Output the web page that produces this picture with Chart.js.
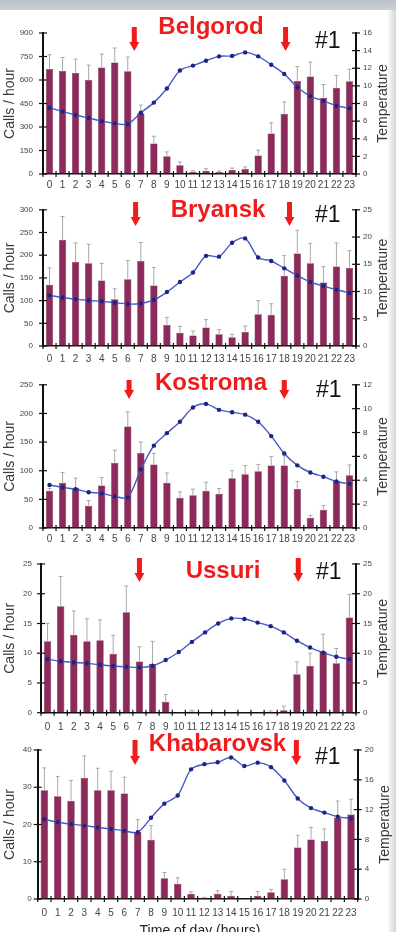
<!DOCTYPE html>
<html lang="en">
<head>
<meta charset="UTF-8">
<title>Calls per hour and temperature</title>
<script src="https://cdn.jsdelivr.net/npm/chart.js"></script>
<style>
  body { margin: 0; background: #fff; width: 396px; height: 932px; overflow: hidden; position: relative; }
  .topbar { position: absolute; left: 0; top: 0; width: 396px; height: 10px; background: linear-gradient(#bcc1c9, #cbcfd6); }
  .edge { position: absolute; right: 0; top: 10px; width: 9px; height: 922px; background: linear-gradient(to right, rgba(255,255,255,0), #d2d4d8); }
  canvas { position: absolute; left: 0; }
</style>
</head>
<body>
<div class="topbar"></div>
<div class="edge"></div>
<canvas id="c1" width="396" height="185" style="top:10px"></canvas>
<canvas id="c2" width="396" height="175" style="top:195px"></canvas>
<canvas id="c3" width="396" height="177" style="top:370px"></canvas>
<canvas id="c4" width="396" height="186" style="top:547px"></canvas>
<canvas id="c5" width="396" height="199" style="top:733px"></canvas>
<script>
const hours = ['0','1','2','3','4','5','6','7','8','9','10','11','12','13','14','15','16','17','18','19','20','21','22','23'];

// Belgorod
const belgorodCalls = [671, 658, 645, 600, 680, 712, 656, 387, 195, 113, 56, 15, 21, 13, 26, 32, 118, 259, 383, 594, 622, 487, 551, 592];
const belgorodErr   = [90, 86, 88, 95, 85, 92, 90, 53, 46, 28, 21, 6, 13, 6, 12, 13, 34, 68, 77, 92, 92, 84, 77, 77];
const belgorodTemp  = [7.5, 7.1, 6.7, 6.35, 6.0, 5.75, 5.65, 6.95, 8.1, 9.7, 11.75, 12.3, 12.85, 13.35, 13.4, 13.8, 13.35, 12.4, 11.35, 9.85, 8.85, 8.3, 7.75, 7.45];
const belgorodArrows = [6.5, 18.1];

// Bryansk
const bryanskCalls = [135, 234, 185, 182, 144, 103, 147, 187, 133, 46, 29, 23, 41, 26, 19, 31, 70, 69, 155, 204, 182, 140, 175, 172];
const bryanskErr   = [37, 51, 42, 42, 38, 23, 41, 41, 40, 17, 14, 10, 17, 10, 7, 13, 30, 24, 44, 51, 44, 35, 52, 38];
const bryanskTemp  = [9.3, 8.9, 8.6, 8.35, 8.2, 7.95, 7.7, 7.8, 8.45, 9.9, 11.75, 13.5, 16.55, 16.4, 18.95, 19.75, 16.25, 15.6, 14.25, 12.95, 11.75, 11.0, 10.35, 9.75];
const bryanskArrows = [6.6, 18.4];

// Kostroma
const kostromaCalls = [65, 79, 70, 39, 74, 114, 177, 131, 111, 79, 53, 57, 65, 60, 87, 94, 99, 109, 109, 68, 18, 32, 82, 92];
const kostromaErr   = [4, 18, 17, 9, 14, 22, 26, 19, 19, 17, 10, 11, 15, 9, 13, 15, 12, 16, 17, 13, 4, 7, 16, 18];
const kostromaTemp  = [3.6, 3.4, 3.25, 3.0, 2.9, 2.65, 2.55, 4.9, 6.9, 7.95, 8.9, 10.1, 10.4, 9.9, 9.7, 9.5, 8.9, 7.7, 6.25, 5.25, 4.65, 4.3, 3.9, 3.7];
const kostromaArrows = [6.1, 18];

// Ussuri
const ussuriCalls = [12, 17.9, 13.1, 12, 12.2, 9.9, 16.9, 8.6, 8.2, 1.85, 0, 0.2, 0, 0, 0, 0, 0, 0.1, 0.4, 6.45, 7.9, 10.3, 8.3, 16];
const ussuriErr   = [3.0, 5.0, 4.0, 3.8, 3.4, 3.1, 4.4, 2.5, 3.8, 1.2, 0, 0.2, 0, 0, 0, 0, 0, 0.2, 0.7, 2.1, 2.1, 2.9, 2.5, 3.9];
const ussuriTemp  = [9.0, 8.65, 8.45, 8.3, 8.05, 7.85, 7.7, 7.6, 7.9, 8.85, 10.2, 11.9, 13.5, 15.0, 15.85, 15.75, 15.15, 14.55, 13.5, 12.1, 10.95, 10.1, 9.4, 9.0];
const ussuriArrows = [7, 19.1];

// Khabarovsk
const khabarovskCalls = [29.2, 27.6, 26.4, 32.5, 29.2, 29.2, 28.3, 18, 15.9, 5.6, 4.1, 1.4, 0.35, 1.4, 0.9, 0, 0.9, 1.8, 5.3, 13.8, 16, 15.6, 21.8, 22.7];
const khabarovskErr   = [6.0, 5.3, 5.4, 5.9, 5.9, 5.1, 4.4, 3.3, 3.8, 1.5, 1.6, 0.5, 0.1, 0.8, 1.1, 0, 1.1, 0.8, 2.7, 3.3, 3.2, 3.2, 4.5, 4.1];
const khabarovskTemp  = [10.7, 10.3, 10.05, 9.85, 9.6, 9.4, 9.15, 8.95, 10.9, 12.8, 13.9, 17.4, 18.1, 18.35, 19.0, 17.85, 18.3, 17.7, 15.9, 13.5, 12.2, 11.6, 11.05, 10.8];
const khabarovskArrows = [6.8, 18.9];

const FONT = '"Liberation Sans", Arial, sans-serif';
const RED = '#f01b1b';

function line(ctx, x1, y1, x2, y2) {
  ctx.beginPath(); ctx.moveTo(x1, y1); ctx.lineTo(x2, y2); ctx.stroke();
}

const deco = {
  id: 'deco',
  afterDatasetDraw(chart, args, o) {
    if (args.meta.type !== 'bar') return;
    const ds = chart.data.datasets[args.index];
    const y = chart.scales.y;
    const ctx = chart.ctx;
    ctx.save();
    ctx.strokeStyle = '#a8a8a8';
    ctx.lineWidth = 1;
    args.meta.data.forEach((bar, i) => {
      const e = ds.errors[i];
      if (!e) return;
      const top = y.getPixelForValue(ds.data[i] + e);
      line(ctx, bar.x, bar.y, bar.x, top);
      line(ctx, bar.x - 2, top, bar.x + 2, top);
    });
    ctx.restore();
  },
  afterDraw(chart, args, o) {
    const ctx = chart.ctx;
    const ca = chart.chartArea;
    const xs = chart.scales.x, ys = chart.scales.y, ts = chart.scales.t;
    ctx.save();
    // cross tick marks
    ctx.strokeStyle = '#111';
    ctx.lineWidth = 1.2;
    ys.ticks.forEach((t, i) => { const p = ys.getPixelForTick(i); line(ctx, ca.left - 4, p, ca.left + 4, p); });
    ts.ticks.forEach((t, i) => { const p = ts.getPixelForTick(i); line(ctx, ca.right - 4, p, ca.right + 4, p); });
    const step = xs.getPixelForValue(1) - xs.getPixelForValue(0);
    for (let i = 0; i <= hours.length; i++) {
      const px = xs.getPixelForValue(0) + (i - 0.5) * step;
      line(ctx, px, ca.bottom - 3, px, ca.bottom + 3);
    }
    // axis titles
    const mid = (ca.top + ca.bottom) / 2;
    ctx.fillStyle = '#383838';
    ctx.font = '14px ' + FONT;
    ctx.textAlign = 'center';
    ctx.textBaseline = 'middle';
    ctx.save(); ctx.translate(o.leftTitleX, mid); ctx.rotate(-Math.PI / 2); ctx.fillText('Calls / hour', 0, 0); ctx.restore();
    ctx.save(); ctx.translate(o.rightTitleX, mid); ctx.rotate(-Math.PI / 2); ctx.fillText('Temperature', 0, 0); ctx.restore();
    if (o.xTitle) {
      ctx.textBaseline = 'alphabetic';
      ctx.fillStyle = '#222';
      ctx.fillText(o.xTitle, o.xTitleX, o.xTitleBase - o.top);
    }
    // city name
    ctx.textBaseline = 'alphabetic';
    ctx.fillStyle = RED;
    ctx.font = 'bold 24px ' + FONT;
    ctx.fillText(o.title, o.titleX, o.titleBase - o.top);
    // #1
    ctx.fillStyle = '#111';
    ctx.font = '23px ' + FONT;
    ctx.textAlign = 'left';
    ctx.fillText('#1', o.numX, o.numBase - o.top);
    // arrows
    ctx.fillStyle = RED;
    o.arrows.forEach(h => {
      const x = xs.getPixelForValue(0) + h * step;
      const y1 = o.arrowTop - o.top, y2 = o.arrowBot - o.top;
      const hh = 9;
      ctx.beginPath();
      ctx.moveTo(x - 2.5, y1); ctx.lineTo(x + 2.5, y1); ctx.lineTo(x + 2.5, y2 - hh);
      ctx.lineTo(x + 5, y2 - hh); ctx.lineTo(x, y2); ctx.lineTo(x - 5, y2 - hh);
      ctx.lineTo(x - 2.5, y2 - hh); ctx.closePath(); ctx.fill();
    });
    ctx.restore();
  }
};

function panel(id, calls, err, temp, o) {
  return new Chart(document.getElementById(id), {
    type: 'bar',
    data: {
      labels: hours,
      datasets: [
        { type: 'line', data: temp, yAxisID: 't', order: 0, borderColor: '#4858c6', borderWidth: 1.4, tension: 0.3,
          pointRadius: 2.2, pointBackgroundColor: '#1b2585', pointBorderWidth: 0 },
        { type: 'bar', data: calls, errors: err, yAxisID: 'y', order: 1, backgroundColor: '#8c2b5b',
          borderColor: '#6e1c45', borderWidth: 0.5, barPercentage: 0.56, categoryPercentage: 1 }
      ]
    },
    options: {
      responsive: false,
      animation: false,
      events: [],
      layout: { padding: { top: o.padTop, left: 0, right: 0, bottom: 0 } },
      plugins: { legend: { display: false }, tooltip: { enabled: false }, deco: o },
      scales: {
        x: {
          grid: { drawOnChartArea: false, drawTicks: false },
          border: { color: '#111', width: 1.5 },
          ticks: { font: { size: 10, family: FONT }, color: '#444', padding: o.xPad, maxRotation: 0, autoSkip: false },
          afterFit: s => { s.height = o.xH; }
        },
        y: {
          position: 'left', min: 0, max: o.yMax,
          grid: { drawOnChartArea: false, drawTicks: false },
          border: { color: '#111', width: 2 },
          ticks: { stepSize: o.yStep, font: { size: 8, family: FONT }, color: '#444', padding: o.yPad },
          afterFit: s => { s.width = o.left; }
        },
        t: {
          position: 'right', min: 0, max: o.tMax,
          grid: { drawOnChartArea: false, drawTicks: false },
          border: { color: '#111', width: 2 },
          ticks: { stepSize: o.tStep, font: { size: 8, family: FONT }, color: '#444', padding: 7 },
          afterFit: s => { s.width = 396 - o.right; }
        }
      }
    },
    plugins: [deco]
  });
}

panel('c1', belgorodCalls, belgorodErr, belgorodTemp, {
  top: 10, left: 43, right: 356, padTop: 23, xH: 21, xPad: 5, yPad: 10,
  yMax: 900, yStep: 150, tMax: 16, tStep: 2,
  title: 'Belgorod', titleX: 211, titleBase: 34, numX: 315, numBase: 48,
  arrows: belgorodArrows, arrowTop: 27, arrowBot: 51, leftTitleX: 10, rightTitleX: 383
});
panel('c2', bryanskCalls, bryanskErr, bryanskTemp, {
  top: 195, left: 43, right: 356, padTop: 10.7, xH: 24, xPad: 7.7, yPad: 10,
  yMax: 300, yStep: 50, tMax: 25, tStep: 5,
  title: 'Bryansk', titleX: 218, titleBase: 217, numX: 315, numBase: 222,
  arrows: bryanskArrows, arrowTop: 202, arrowBot: 226, leftTitleX: 10, rightTitleX: 383
});
panel('c3', kostromaCalls, kostromaErr, kostromaTemp, {
  top: 370, left: 43, right: 356, padTop: 10.7, xH: 19, xPad: 5.5, yPad: 10,
  yMax: 250, yStep: 50, tMax: 12, tStep: 2,
  title: 'Kostroma', titleX: 211, titleBase: 390, numX: 316, numBase: 397,
  arrows: kostromaArrows, arrowTop: 380, arrowBot: 399, leftTitleX: 10, rightTitleX: 383
});
panel('c4', ussuriCalls, ussuriErr, ussuriTemp, {
  top: 547, left: 41, right: 356, padTop: 17, xH: 20.3, xPad: 8.7, yPad: 9,
  yMax: 25, yStep: 5, tMax: 25, tStep: 5,
  title: 'Ussuri', titleX: 223, titleBase: 578, numX: 316, numBase: 579,
  arrows: ussuriArrows, arrowTop: 558, arrowBot: 582, leftTitleX: 10, rightTitleX: 383
});
panel('c5', khabarovskCalls, khabarovskErr, khabarovskTemp, {
  top: 733, left: 37.7, right: 357.7, padTop: 17, xH: 33, xPad: 8.4, yPad: 6,
  yMax: 40, yStep: 10, tMax: 20, tStep: 4,
  title: 'Khabarovsk', titleX: 217.5, titleBase: 751, numX: 315, numBase: 764,
  arrows: khabarovskArrows, arrowTop: 740, arrowBot: 765, leftTitleX: 10, rightTitleX: 385,
  xTitle: 'Time of day (hours)', xTitleX: 200, xTitleBase: 935
});
</script>
</body>
</html>
